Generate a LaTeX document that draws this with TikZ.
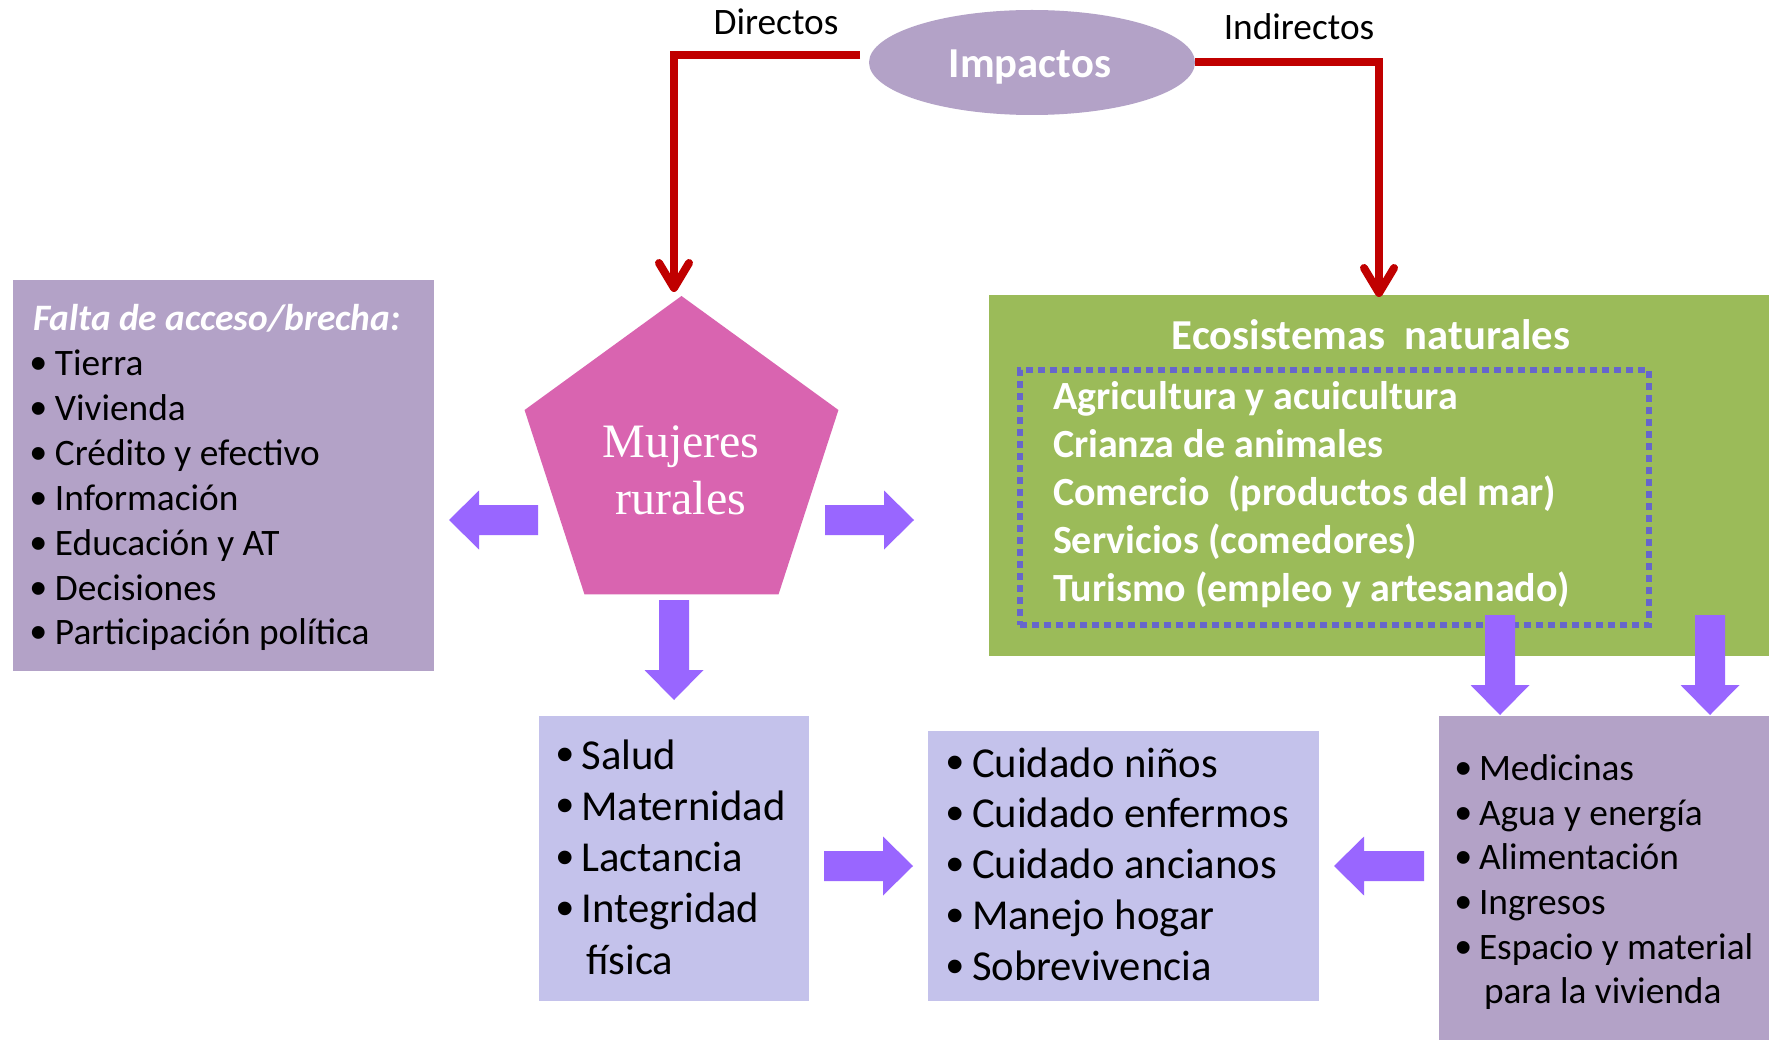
\documentclass[tikz,border=0pt]{standalone}
\usepackage{fontspec}
\setmainfont{Carlito}
\newfontfamily\mujfont{Liberation Serif}
\newfontfamily\bulfont{Liberation Sans}
\usetikzlibrary{arrows.meta,shapes.geometric}
\definecolor{lav}{HTML}{B3A2C7}
\definecolor{grn}{HTML}{9BBB59}
\definecolor{pnk}{HTML}{D964B0}
\definecolor{arr}{HTML}{9966FF}
\definecolor{rd}{HTML}{C00000}
\definecolor{peri}{HTML}{C4C2EB}
\definecolor{dotc}{HTML}{6666CC}
\newcommand\fs[1]{\fontsize{#1}{#1}\selectfont}
% #1 box width, #2 bullet font size, #3 lowering
\newcommand\bul[3]{\makebox[#1][l]{\raisebox{-#3}{\bulfont\fs{#2}•}}}
\tikzset{
  box/.style={draw=none, anchor=north west, inner sep=0pt, outer sep=0pt},
  lst/.style={anchor=base west, inner sep=0pt, outer sep=0pt},
  ctr/.style={anchor=base, inner sep=0pt, outer sep=0pt},
  redarrow/.style={draw=rd, line width=8pt, -{Straight Barb[length=25pt,width=30pt,round]}},
  pics/barrow/.style={code={\fill[arr] (0,-15) -- ({#1-30},-15) -- ({#1-30},-29.5) -- (#1,0) -- ({#1-30},29.5) -- ({#1-30},15) -- (0,15) -- cycle;}}
}
\begin{document}
\begin{tikzpicture}[x=1pt,y=-1pt]
\useasboundingbox (0,0) rectangle (1769,1040);
\fill[white] (0,0) rectangle (1769,1040);

% --- main shapes
\node[ellipse, fill=lav, minimum width=326pt, minimum height=105pt, inner sep=0pt, outer sep=0pt] (imp) at (1032,62.5) {};
\node[ctr, font=\fs{42.67}\bfseries, text=white] (impt) at (1030,78) {Impactos};

\node[box, fill=lav, minimum width=421pt, minimum height=390.5pt] (acc) at (13,280) {};
\node[regular polygon, regular polygon sides=5, fill=pnk, minimum size=330pt, inner sep=0pt, outer sep=0pt] (muj) at (681.5,461) {};
\node[ctr, font=\mujfont\fs{48}, text=white] (muj1) at (681,457) {Mujeres};
\node[ctr, font=\mujfont\fs{48}, text=white] (muj2) at (681,514) {rurales};

\node[box, fill=grn, minimum width=780pt, minimum height=360.5pt] (eco) at (989,295) {};
\node[draw=dotc, line width=6pt, dash pattern=on 7pt off 5pt, minimum width=629pt, minimum height=255pt, inner sep=0pt, outer sep=0pt, anchor=north west] (dots) at (1020,370) {};

\node[box, fill=peri, minimum width=269.5pt, minimum height=284.7pt] (sal) at (539,716) {};
\node[box, fill=peri, minimum width=390.5pt, minimum height=269.7pt] (cui) at (928,731) {};
\node[box, fill=lav, minimum width=330pt, minimum height=324pt] (rec) at (1439,716) {};

% --- red connectors
\coordinate (dtip) at (674,292);
\coordinate (itip) at (1379,297);
\draw[redarrow] ([xshift=-9pt,yshift=7pt]imp.west) -| (dtip);
\draw[redarrow] (imp.east) -| (itip);
\node[ctr, font=\fs{37.33}] (dir) at (776,34.3) {Directos};
\node[ctr, font=\fs{37.33}] (ind) at (1299,40) {Indirectos};

% --- block arrows
\pic[rotate=180] at (538,520) {barrow=89};
\pic at (825,520) {barrow=89};
\pic[rotate=-90] at (674,600) {barrow=100};
\pic[rotate=-90] at (1500,615) {barrow=100};
\pic[rotate=-90] at (1710,615) {barrow=100};
\pic at (824,866) {barrow=89};
\pic[rotate=180] at (1424,866) {barrow=90};

% --- left list
\node[lst, font=\fs{37.33}\bfseries\itshape, text=white] (falta) at (33,331) {Falta de acceso/brecha:};
\foreach \t [count=\i from 0] in {{Tierra},{Vivienda},{Crédito y efectivo},{Información},{Educación y AT},{Decisiones},{Participación política}}{
  \node[lst, font=\fs{37.33}] (acc\i) at (30.5,{376+\i*44.8}) {\bul{24.5pt}{47}{4pt}\t};
}

% --- green list
\node[ctr, font=\fs{42.67}\bfseries, text=white] (ecot) at (1371,349) {Ecosistemas\ \ naturales};
\foreach \t [count=\i from 0] in {{Agricultura y acuicultura},{Crianza de animales},{Comercio\ \ (productos del mar)},{Servicios (comedores)},{Turismo (empleo y artesanado)}}{
  \node[lst, font=\fs{40}\bfseries, text=white] (eco\i) at (1053,{409+\i*48.2}) {\t};
}

% --- salud list
\foreach \t [count=\i from 0] in {{Salud},{Maternidad},{Lactancia},{Integridad}}{
  \node[lst, font=\fs{42.67}] (sal\i) at (556,{769+\i*51.3}) {\bul{25.5pt}{50}{2.5pt}\t};
}
\node[lst, font=\fs{42.67}] (sal4) at (586,974) {física};

% --- cuidado list
\foreach \t [count=\i from 0] in {{Cuidado niños},{Cuidado enfermos},{Cuidado ancianos},{Manejo hogar},{Sobrevivencia}}{
  \node[lst, font=\fs{42.67}] (cui\i) at (946.5,{777+\i*50.9}) {\bul{25.5pt}{50}{2.5pt}\t};
}

% --- recursos list
\foreach \t [count=\i from 0] in {{Medicinas},{Agua y energía},{Alimentación},{Ingresos},{Espacio y material}}{
  \node[lst, font=\fs{37.33}] (rec\i) at (1455.5,{780.7+\i*44.6}) {\bul{23.5pt}{47}{4pt}\t};
}
\node[lst, font=\fs{37.33}] (rec5) at (1484,1003) {para la vivienda};
\end{tikzpicture}
\end{document}
